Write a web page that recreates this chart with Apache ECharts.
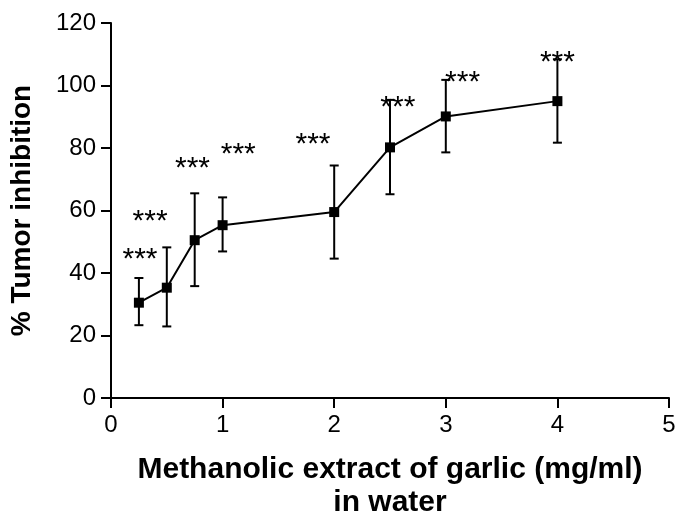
<!DOCTYPE html>
<html>
<head>
<meta charset="utf-8">
<script src="https://cdn.jsdelivr.net/npm/echarts@6/dist/echarts.min.js"></script>
<style>html,body{margin:0;padding:0;background:#fff}#c{width:679px;height:520px}</style>
</head>
<body>
<div id="c"></div>
<script>
const xValues = [0.25, 0.5, 0.75, 1, 2, 2.5, 3, 4];
const means = [30.5, 35.3, 50.5, 55.3, 59.5, 80.2, 90.1, 95.0];
const upper = [38.4, 48.2, 65.5, 64.2, 74.4, 95.4, 101.8, 108.4];
const lower = [23.3, 22.9, 35.8, 46.9, 44.6, 65.2, 78.6, 81.7];
const starX = [0.26, 0.35, 0.73, 1.14, 1.81, 2.57, 3.15, 4.0];
const starY = [46, 58, 75, 79.5, 82.5, 94.5, 102.5, 109];
const starText = ['***', '***', '***', '***', '***', '***', '***', '***'];
const xTicks = [0, 1, 2, 3, 4, 5];
const yTicks = [0, 20, 40, 60, 80, 100, 120];
const xTitle = 'Methanolic extract of garlic (mg/ml)\nin water';
const yTitle = '% Tumor inhibition';

const FONT = '"Liberation Sans", Arial, sans-serif';
const chart = echarts.init(document.getElementById('c'), null, {renderer: 'canvas'});

const lineData = xValues.map((x, i) => [x, means[i]]);
const errData = xValues.map((x, i) => [x, lower[i], upper[i]]);
const starData = starX.map((x, i) => [x, starY[i], starText[i]]);

chart.setOption({
  animation: false,
  grid: {left: 111, right: 10, top: 23, bottom: 122, containLabel: false, outerBoundsMode: 'none'},
  xAxis: {
    type: 'value', min: xTicks[0], max: xTicks[xTicks.length - 1], interval: 1,
    name: xTitle, nameLocation: 'middle', nameGap: 55,
    nameTextStyle: {fontFamily: FONT, fontWeight: 'bold', fontSize: 30, color: '#000', lineHeight: 33},
    axisLine: {lineStyle: {color: '#000', width: 2}},
    axisTick: {length: 10, lineStyle: {color: '#000', width: 2}},
    axisLabel: {fontFamily: FONT, fontSize: 24, color: '#000', margin: 15},
    splitLine: {show: false}
  },
  yAxis: {
    type: 'value', min: yTicks[0], max: yTicks[yTicks.length - 1], interval: 20,
    name: yTitle, nameLocation: 'middle', nameGap: 75, nameRotate: 90,
    nameTextStyle: {fontFamily: FONT, fontWeight: 'bold', fontSize: 28, color: '#000'},
    axisLine: {lineStyle: {color: '#000', width: 2}},
    axisTick: {length: 10, lineStyle: {color: '#000', width: 2}},
    axisLabel: {fontFamily: FONT, fontSize: 24, color: '#000', margin: 15},
    splitLine: {show: false}
  },
  series: [
    {
      type: 'custom',
      data: errData,
      z: 3,
      renderItem: function (params, api) {
        const x = api.value(0);
        const lo = api.coord([x, api.value(1)]);
        const hi = api.coord([x, api.value(2)]);
        const hw = 4.5;
        const st = {stroke: '#000', lineWidth: 2};
        return {
          type: 'group',
          children: [
            {type: 'line', shape: {x1: lo[0], y1: lo[1], x2: hi[0], y2: hi[1]}, style: st},
            {type: 'line', shape: {x1: lo[0] - hw, y1: lo[1], x2: lo[0] + hw, y2: lo[1]}, style: st},
            {type: 'line', shape: {x1: hi[0] - hw, y1: hi[1], x2: hi[0] + hw, y2: hi[1]}, style: st}
          ]
        };
      }
    },
    {
      type: 'line',
      data: lineData,
      z: 4,
      symbol: 'rect', symbolSize: 10, showSymbol: true,
      lineStyle: {color: '#000', width: 2},
      itemStyle: {color: '#000'}
    },
    {
      type: 'custom',
      data: starData,
      z: 5,
      renderItem: function (params, api) {
        const p = api.coord([api.value(0), api.value(1)]);
        return {
          type: 'text',
          x: p[0],
          y: p[1] - 10,
          style: {
            text: starText[params.dataIndex],
            font: '30px ' + FONT,
            fill: '#000',
            align: 'center',
            verticalAlign: 'top'
          }
        };
      }
    }
  ]
});
</script>
</body>
</html>
